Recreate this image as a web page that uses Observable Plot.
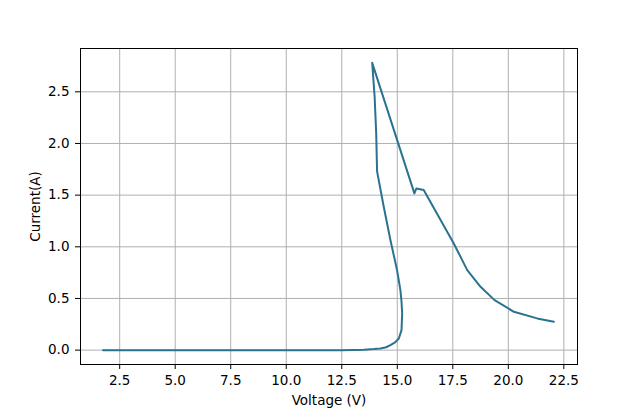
<!DOCTYPE html>
<html>
<head>
<meta charset="utf-8">
<script src="https://cdn.jsdelivr.net/npm/d3@7"></script>
<script src="https://cdn.jsdelivr.net/npm/@observablehq/plot@0.6"></script>
<style>
  html, body { margin: 0; padding: 0; background: #fff; }
  svg { font-family: "DejaVu Sans", sans-serif; }
</style>
</head>
<body>
<div id="chart"></div>
<script>
const voltage = [1.75, 5.0, 10.0, 12.5, 13.5, 13.94, 14.24, 14.5, 14.69, 14.9, 15.07, 15.19, 15.22, 15.19, 15.14, 14.99, 14.69, 14.39, 14.09, 14.05, 13.98, 13.87,
  15.77, 15.86, 16.19, 16.95, 17.55, 18.15, 18.75, 19.38, 20.25, 21.3, 22.05];
const current = [0.0, 0.0, 0.0, 0.0, 0.004, 0.01, 0.016, 0.028, 0.048, 0.075, 0.113, 0.194, 0.355, 0.47, 0.58, 0.774, 1.065, 1.387, 1.73, 2.1, 2.45, 2.78,
  1.517, 1.565, 1.55, 1.26, 1.03, 0.774, 0.613, 0.484, 0.371, 0.307, 0.274];
const xTicks = [2.5, 5.0, 7.5, 10.0, 12.5, 15.0, 17.5, 20.0, 22.5];
const yTicks = [0.0, 0.5, 1.0, 1.5, 2.0, 2.5];

const data = voltage.map((v, i) => ({v, c: current[i]}));

const chart = Plot.plot({
  width: 640,
  height: 409,
  marginLeft: 80,
  marginRight: 63,
  marginTop: 48,
  marginBottom: 45,
  style: {fontFamily: "DejaVu Sans, sans-serif", fontSize: "13.5px", color: "#000", background: "#fff"},
  x: {domain: [0.735, 23.115], ticks: xTicks, tickFormat: d3.format(".1f")},
  y: {domain: [-0.139, 2.919], ticks: yTicks, tickFormat: d3.format(".1f")},
  marks: [
    Plot.gridX(xTicks, {stroke: "#b0b0b0", strokeOpacity: 1, strokeWidth: 1}),
    Plot.gridY(yTicks, {stroke: "#b0b0b0", strokeOpacity: 1, strokeWidth: 1}),
    Plot.line(data, {x: "v", y: "c", stroke: "#2a7390", strokeWidth: 2, curve: "linear"}),
    Plot.frame({stroke: "#000", strokeWidth: 1}),
    Plot.axisX(xTicks, {tickSize: 5, tickPadding: 6, tickFormat: d3.format(".1f"), fontSize: 13.5, label: "Voltage (V)", labelAnchor: "center", labelArrow: "none", labelOffset: 40}),
    Plot.axisY(yTicks, {tickSize: 5, tickPadding: 6, tickFormat: d3.format(".1f"), fontSize: 13.5, label: "Current(A)", labelAnchor: "center", labelArrow: "none", labelOffset: 50})
  ]
});
document.getElementById("chart").appendChild(chart);
</script>
</body>
</html>
